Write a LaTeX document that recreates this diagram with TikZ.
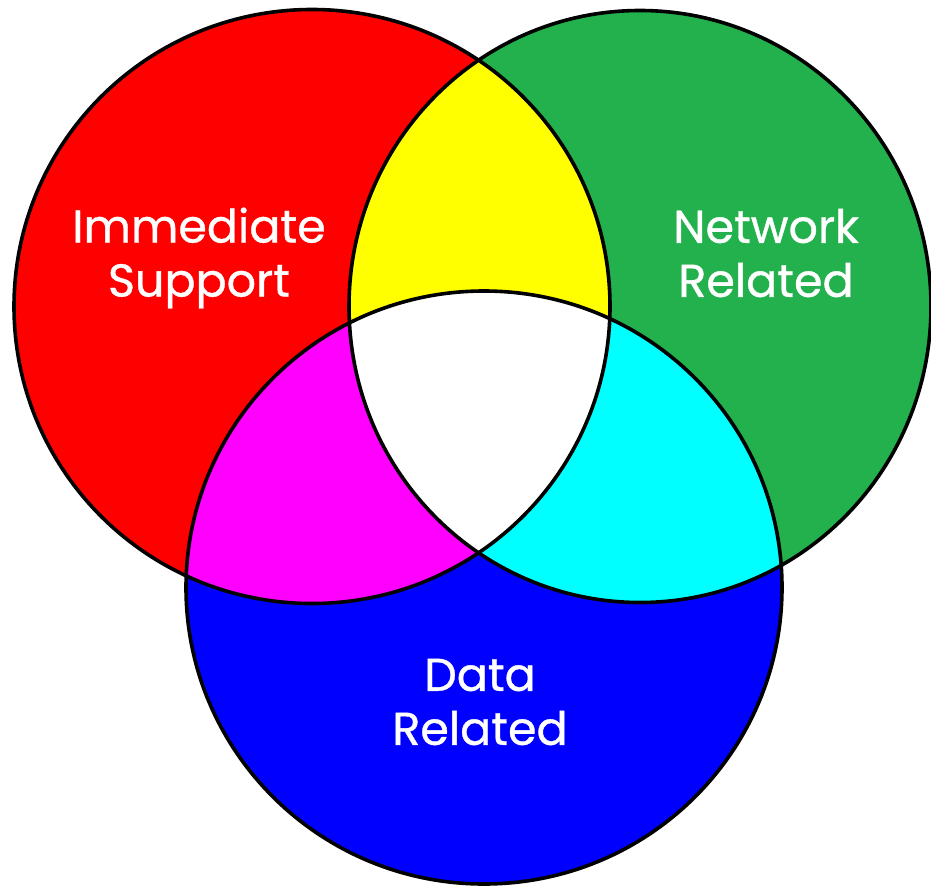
\documentclass[tikz,border=0pt]{standalone}
\usepackage{fontspec}
\setmainfont{Poppins}
\newfontfamily\labfont{Poppins}[FakeBold=0.8]
\definecolor{cred}{RGB}{255,0,0}
\definecolor{cgreen}{RGB}{34,177,76}
\definecolor{cblue}{RGB}{0,0,255}
\definecolor{cyel}{RGB}{255,255,0}
\definecolor{cmag}{RGB}{255,0,255}
\definecolor{ccyan}{RGB}{0,255,255}
\begin{document}
\begin{tikzpicture}[x=1pt,y=-1pt,
  outline/.style={draw=black,line width=3.6pt},
  label/.style={text=white,align=center,inner sep=0pt,font=\labfont\fontsize{46}{54}\selectfont}]
\useasboundingbox (0,0) rectangle (931,888);
\def\pathR{(312,306.5) ellipse [x radius=298pt, y radius=297pt]}
\def\pathG{(640,306.5) ellipse [x radius=291pt, y radius=296pt]}
\def\pathB{(484,587.5) ellipse [x radius=298pt, y radius=296.5pt]}
\fill[cred] \pathR;
\fill[cgreen] \pathG;
\fill[cblue] \pathB;
\begin{scope}\clip \pathR; \fill[cyel] \pathG; \end{scope}
\begin{scope}\clip \pathR; \fill[cmag] \pathB; \end{scope}
\begin{scope}\clip \pathG; \fill[ccyan] \pathB; \end{scope}
\begin{scope}\clip \pathR; \clip \pathG; \fill[white] \pathB; \end{scope}
\draw[outline] \pathR;
\draw[outline] \pathG;
\draw[outline] \pathB;
\node[label] (imm) at (199,258) {Immediate\\Support};
\node[label] (net) at (766,253) {Network\\Related};
\node[label] (dat) at (480,702) {Data\\Related};
\end{tikzpicture}
\end{document}
